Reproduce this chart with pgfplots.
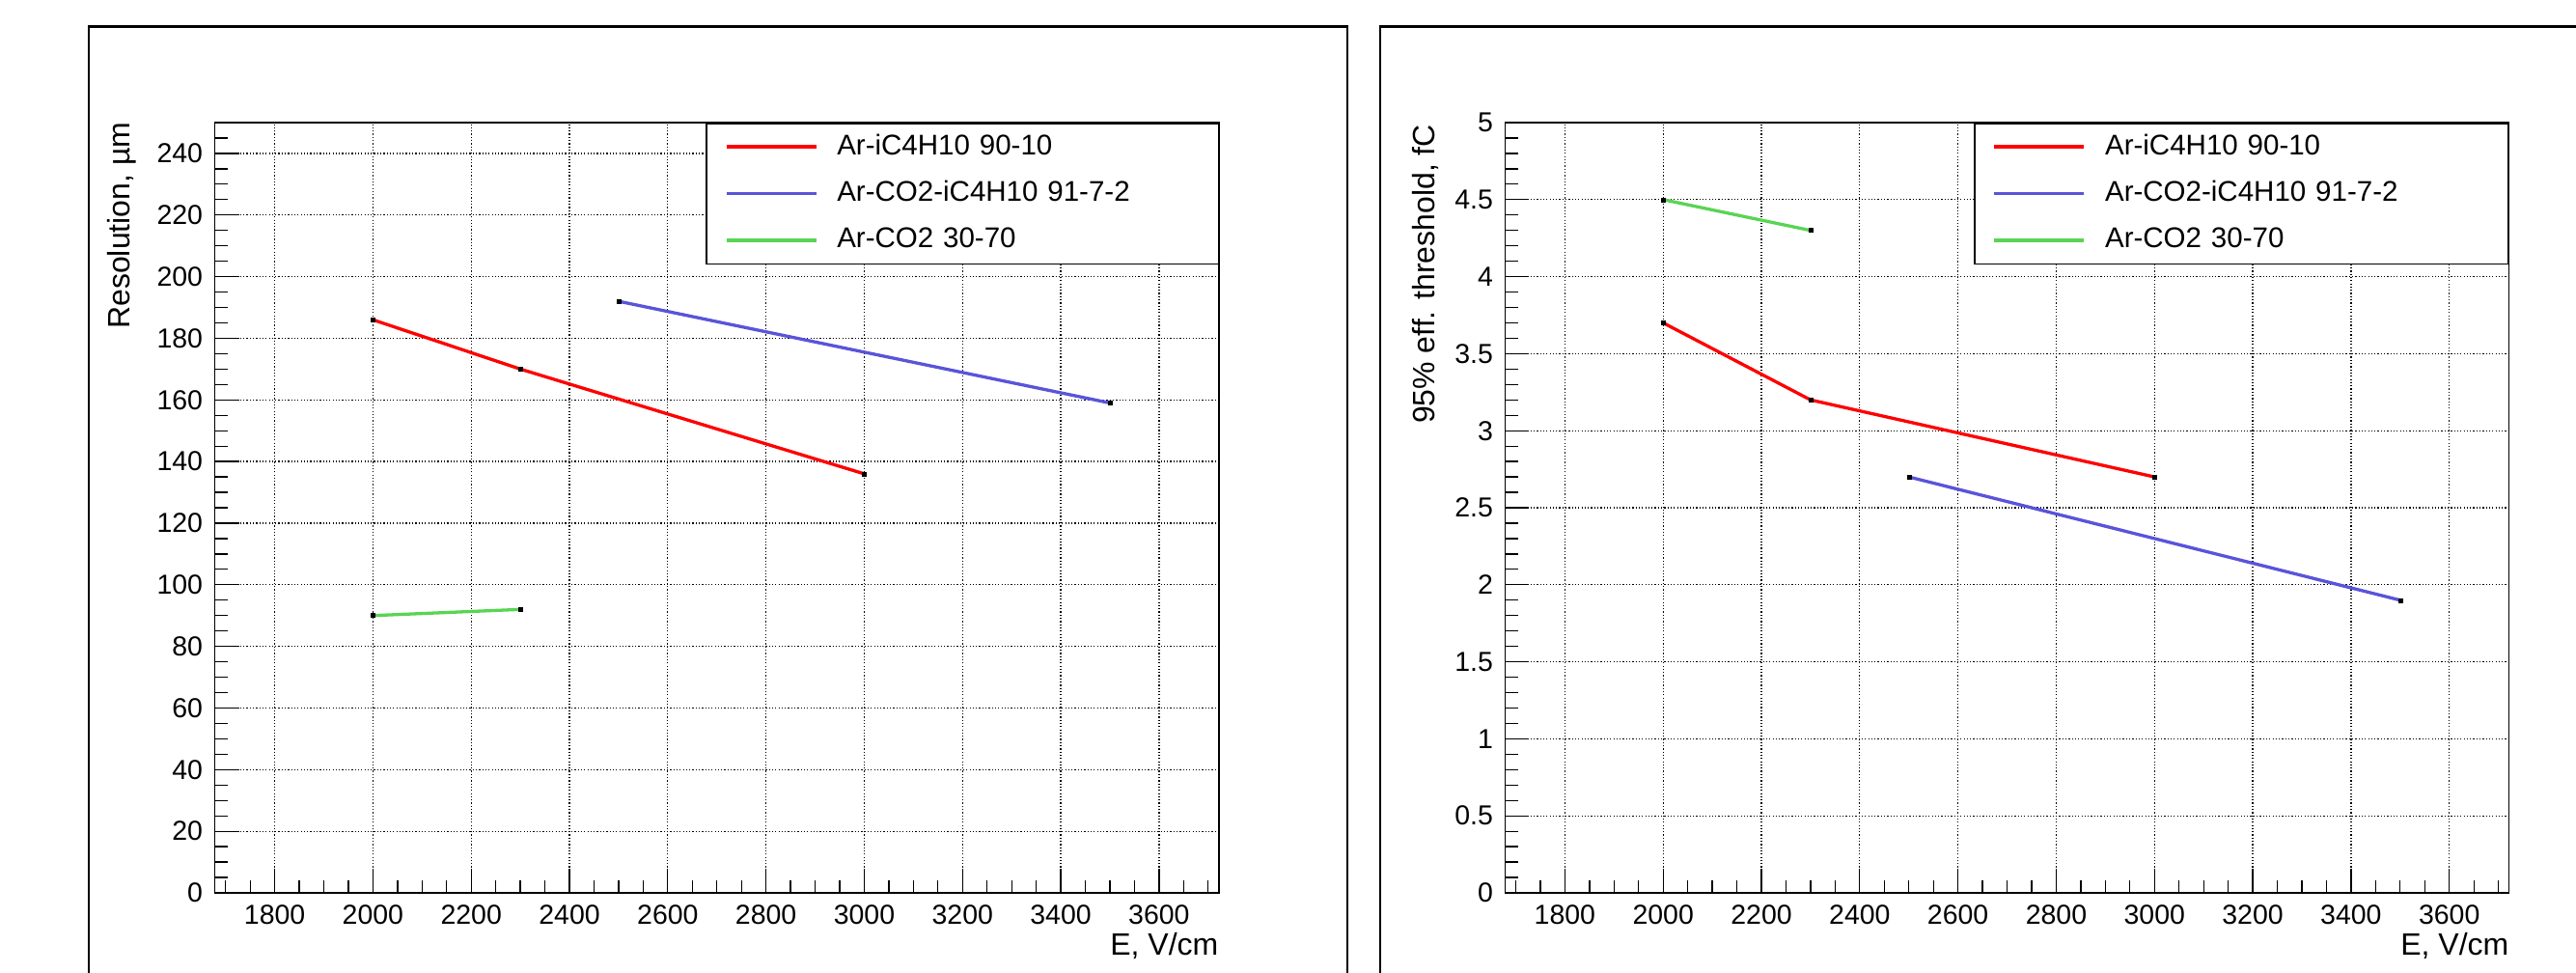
\documentclass[border=0pt]{standalone}
\usepackage{pgfplots}
\pgfplotsset{compat=1.18}
\usepackage{fontspec}
\setmainfont{Liberation Sans}

\definecolor{rootred}{rgb}{1,0,0}
\definecolor{rootblue}{rgb}{0.35,0.33,0.85}
\definecolor{rootgreen}{rgb}{0.35,0.83,0.33}

\newcommand{\tickfont}{\fontsize{8.1}{9.5}\selectfont}
\newcommand{\labfont}{\fontsize{9.1}{10.5}\selectfont}
\newcommand{\legfont}{\fontsize{8.4}{9.5}\selectfont}

% ROOT-like frame: ticks inside, dotted major grid, boxed legend top right
\pgfplotsset{
  rootstyle/.style={
    scale only axis,
    width=104.05mm, height=79.8mm,
    xmin=1678, xmax=3722,
    xtick={1800,2000,...,3600},
    minor xtick={1700,1750,...,3700},
    tick pos=left,
    tick align=inside,
    major tick length=2.5mm,
    minor tick length=1.35mm,
    every tick/.style={black, line width=0.13mm},
    axis line style={line width=0.13mm},
    grid=major,
    major grid style={black, line width=0.13mm, dash pattern=on 0.12mm off 0.21mm},
    tick label style={font=\tickfont},
    /pgf/number format/assume math mode=true,
    /pgf/number format/1000 sep={},
    legend cell align=left,
    legend image code/.code={\draw[##1] (0mm,0mm) -- (9.3mm,0mm);},
    legend style={at={(1,1)}, anchor=north east, draw=black, line width=0.15mm,
      fill=white, font=\legfont, inner xsep=1.9mm, inner ysep=0mm,
      row sep=0mm, column sep=2.0mm,
      nodes={inner xsep=0mm, inner ysep=0mm, minimum height=4.85mm, align=left}},
  },
  pt/.style={line width=0.33mm, mark=square*, mark size=0.2mm,
    mark options={black, fill=black, line width=0.05mm}},
}

\begin{document}
\begin{tikzpicture}
\path[use as bounding box] (0,0) rectangle (266.9mm,100.7mm);
\clip (0,0) rectangle (266.9mm,100.7mm);

% pad frames
\draw[line width=0.22mm] (9.2mm,-5mm) -- (9.2mm,97.94mm) -- (139.6mm,97.94mm) -- (139.6mm,-5mm);
\draw[line width=0.22mm] (143.0mm,-5mm) -- (143.0mm,97.94mm) -- (275mm,97.94mm);

\begin{axis}[rootstyle,
  at={(22.25mm,8.2mm)}, anchor=south west,
  ymin=0, ymax=250,
  ytick={0,20,...,240},
  minor ytick={0,5,...,250},
  legend style={nodes={text width=37.6mm}},
]
\addplot[pt, color=rootred] coordinates {(2000,186) (2300,170) (3000,136)};
\addlegendentry{Ar-iC4H10 90-10}
\addplot[pt, color=rootblue] coordinates {(2500,192) (3500,159)};
\addlegendentry{Ar-CO2-iC4H10 91-7-2}
\addplot[pt, color=rootgreen] coordinates {(2000,90) (2300,92)};
\addlegendentry{Ar-CO2 30-70}
\end{axis}

\begin{axis}[rootstyle,
  at={(155.93mm,8.2mm)}, anchor=south west,
  ymin=0, ymax=5,
  ytick={0,0.5,...,5},
  minor ytick={0,0.1,...,5},
  legend style={nodes={text width=39.9mm}},
]
\addplot[pt, color=rootred] coordinates {(2000,3.7) (2300,3.2) (3000,2.7)};
\addlegendentry{Ar-iC4H10 90-10}
\addplot[pt, color=rootblue] coordinates {(2500,2.7) (3500,1.9)};
\addlegendentry{Ar-CO2-iC4H10 91-7-2}
\addplot[pt, color=rootgreen] coordinates {(2000,4.5) (2300,4.3)};
\addlegendentry{Ar-CO2 30-70}
\end{axis}

% axis titles, ROOT places them at the far end of each axis
\node[font=\labfont, inner sep=0pt, anchor=base east] at (126.3mm,1.7mm) {E, V/cm};
\node[font=\labfont, inner sep=0pt, anchor=base east] at (260.0mm,1.7mm) {E, V/cm};
\node[font=\labfont, inner sep=0pt, anchor=base east, rotate=90] at (13.43mm,88.1mm) {Resolution, µm};
\node[font=\labfont, inner sep=0pt, anchor=base east, rotate=90] at (148.67mm,87.87mm) {95\% eff. threshold, fC};
\end{tikzpicture}
\end{document}
